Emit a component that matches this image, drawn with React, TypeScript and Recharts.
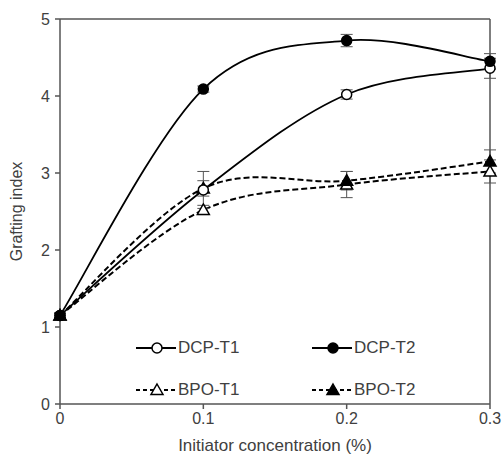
import {
	ErrorBar,
	Line,
	LineChart,
	ReferenceLine,
	XAxis,
	YAxis,
} from "recharts";

const concentrations = [0, 0.1, 0.2, 0.3];
const dcpT1 = [1.15, 2.78, 4.02, 4.36];
const dcpT1Err = [0.03, 0.24, 0.06, 0.13];
const dcpT2 = [1.15, 4.09, 4.72, 4.45];
const dcpT2Err = [0.03, 0.04, 0.08, 0.1];
const bpoT1 = [1.15, 2.52, 2.85, 3.02];
const bpoT1Err = [0.03, 0.06, 0.17, 0.15];
const bpoT2 = [1.15, 2.8, 2.9, 3.15];
const bpoT2Err = [0.03, 0.1, 0.12, 0.15];
const xTicks = [0, 0.1, 0.2, 0.3];
const yTicks = [0, 1, 2, 3, 4, 5];

const data = concentrations.map((c, i) => ({
	x: c,
	dcpT1: dcpT1[i],
	dcpT1Err: dcpT1Err[i],
	dcpT2: dcpT2[i],
	dcpT2Err: dcpT2Err[i],
	bpoT1: bpoT1[i],
	bpoT1Err: bpoT1Err[i],
	bpoT2: bpoT2[i],
	bpoT2Err: bpoT2Err[i],
}));

const TEXT = "#404040";
const FONT = "'Liberation Sans', Arial, sans-serif";

// Excel-like smoothed line (Catmull-Rom through every point)
function smoothCurve(context: any) {
	let pts: number[][] = [];
	return {
		areaStart() {},
		areaEnd() {},
		lineStart() {
			pts = [];
		},
		point(x: number, y: number) {
			pts.push([+x, +y]);
		},
		lineEnd() {
			const n = pts.length;
			if (!n) return;
			context.moveTo(pts[0][0], pts[0][1]);
			for (let i = 0; i < n - 1; i++) {
				const p0 = pts[i - 1] || pts[i];
				const p1 = pts[i];
				const p2 = pts[i + 1];
				const p3 = pts[i + 2] || p2;
				context.bezierCurveTo(
					p1[0] + (p2[0] - p0[0]) / 6,
					p1[1] + (p2[1] - p0[1]) / 6,
					p2[0] - (p3[0] - p1[0]) / 6,
					p2[1] - (p3[1] - p1[1]) / 6,
					p2[0],
					p2[1],
				);
			}
		},
	};
}

function Marker({ cx, cy, kind }: { cx: number; cy: number; kind: string }) {
	if (kind === "circleOpen" || kind === "circleFilled") {
		return (
			<circle
				cx={cx}
				cy={cy}
				r={5}
				fill={kind === "circleFilled" ? "#000" : "#fff"}
				stroke="#000"
				strokeWidth={1.5}
			/>
		);
	}
	const s = 6;
	return (
		<path
			d={`M${cx},${cy - s}L${cx + s},${cy + s * 0.75}L${cx - s},${cy + s * 0.75}Z`}
			fill={kind === "triFilled" ? "#000" : "#fff"}
			stroke="#000"
			strokeWidth={1.5}
		/>
	);
}

const makeDot = (kind: string) => (props: any) => (
	<Marker key={`${kind}-${props.index}`} cx={props.cx} cy={props.cy} kind={kind} />
);

const legendItems = [
	{ name: "DCP-T1", kind: "circleOpen", dash: undefined, left: 136, top: 339 },
	{ name: "DCP-T2", kind: "circleFilled", dash: undefined, left: 312, top: 339 },
	{ name: "BPO-T1", kind: "triOpen", dash: "4 3", left: 136, top: 381 },
	{ name: "BPO-T2", kind: "triFilled", dash: "4 3", left: 312, top: 381 },
];

function LegendOverlay() {
	return (
		<>
			{legendItems.map((it) => (
				<div
					key={it.name}
					style={{
						position: "absolute",
						left: it.left,
						top: it.top,
						display: "flex",
						alignItems: "center",
						fontFamily: FONT,
						fontSize: 17,
						color: TEXT,
						lineHeight: "18px",
					}}
				>
					<svg width={40} height={18}>
						<line
							x1={0}
							y1={9}
							x2={40}
							y2={9}
							stroke="#000"
							strokeWidth={1.8}
							strokeDasharray={it.dash}
						/>
						<Marker cx={21} cy={9} kind={it.kind} />
					</svg>
					<span style={{ marginLeft: 2 }}>{it.name}</span>
				</div>
			))}
		</>
	);
}

export default function App() {
	return (
		<div
			style={{
				position: "absolute",
				left: 0,
				top: 0,
				width: 504,
				height: 456,
				background: "#fff",
			}}
		>
			<LineChart
				width={504}
				height={456}
				data={data}
				margin={{ top: 19, right: 14, left: 0, bottom: 0 }}
			>
				<XAxis
					dataKey="x"
					type="number"
					domain={[0, 0.3]}
					ticks={xTicks}
					tickFormatter={(v: number) => String(v)}
					axisLine={{ stroke: "#555", strokeWidth: 1.5 }}
					tickLine={{ stroke: "#555", strokeWidth: 1.5 }}
					tickSize={5}
					tickMargin={4}
					height={52}
					tick={{ fill: TEXT, fontSize: 16, fontFamily: FONT }}
					label={{
						value: "Initiator concentration (%)",
						position: "insideBottom",
						offset: 5,
						fill: TEXT,
						fontSize: 17,
						fontFamily: FONT,
					}}
				/>
				<YAxis
					type="number"
					domain={[0, 5]}
					ticks={yTicks}
					axisLine={{ stroke: "#555", strokeWidth: 1.5 }}
					tickLine={{ stroke: "#555", strokeWidth: 1.5 }}
					tickSize={5}
					tickMargin={5}
					width={60}
					tick={{ fill: TEXT, fontSize: 16, fontFamily: FONT }}
					label={{
						value: "Grafting index",
						angle: -90,
						position: "insideLeft",
						offset: 16,
						style: { textAnchor: "middle" },
						fill: TEXT,
						fontSize: 16,
						fontFamily: FONT,
					}}
				/>
				<ReferenceLine y={5} stroke="#555" strokeWidth={1.5} />
				<ReferenceLine x={0.3} stroke="#555" strokeWidth={1.5} />
				<Line
					dataKey="bpoT1"
					type={smoothCurve as any}
					stroke="#000"
					strokeWidth={2}
					strokeDasharray="6 3"
					dot={makeDot("triOpen")}
					isAnimationActive={false}
				>
					<ErrorBar dataKey="bpoT1Err" width={6} stroke="#555" strokeWidth={1} />
				</Line>
				<Line
					dataKey="bpoT2"
					type={smoothCurve as any}
					stroke="#000"
					strokeWidth={2}
					strokeDasharray="6 3"
					dot={makeDot("triFilled")}
					isAnimationActive={false}
				>
					<ErrorBar dataKey="bpoT2Err" width={6} stroke="#555" strokeWidth={1} />
				</Line>
				<Line
					dataKey="dcpT1"
					type={smoothCurve as any}
					stroke="#000"
					strokeWidth={1.8}
					dot={makeDot("circleOpen")}
					isAnimationActive={false}
				>
					<ErrorBar dataKey="dcpT1Err" width={6} stroke="#555" strokeWidth={1} />
				</Line>
				<Line
					dataKey="dcpT2"
					type={smoothCurve as any}
					stroke="#000"
					strokeWidth={1.8}
					dot={makeDot("circleFilled")}
					isAnimationActive={false}
				>
					<ErrorBar dataKey="dcpT2Err" width={6} stroke="#555" strokeWidth={1} />
				</Line>
			</LineChart>
			<LegendOverlay />
		</div>
	);
}
